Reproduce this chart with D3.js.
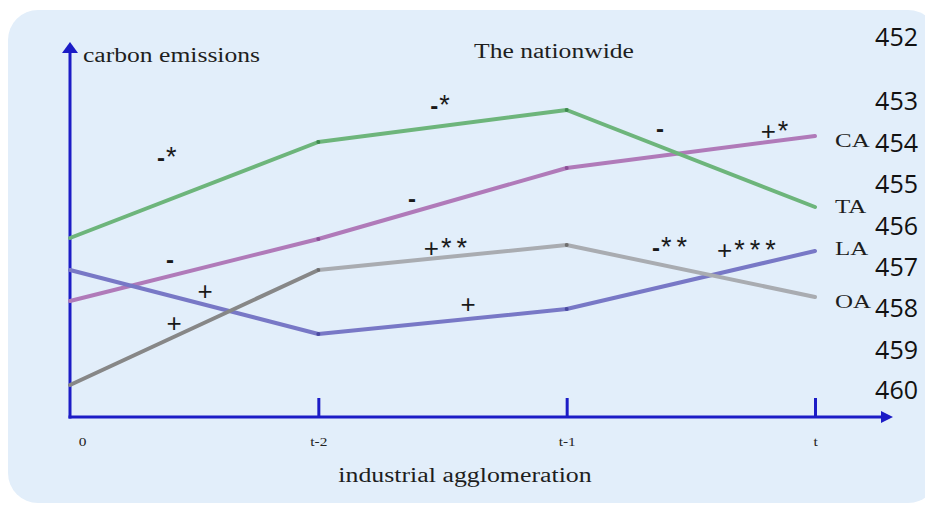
<!DOCTYPE html>
<html>
<head>
<meta charset="utf-8">
<script src="https://cdn.jsdelivr.net/npm/d3@7"></script>
<style>
  html, body { margin: 0; padding: 0; background: #ffffff; }
  svg { display: block; }
</style>
</head>
<body>
<svg id="chart" width="925" height="506"></svg>
<script>
// Stages of industrial agglomeration along the horizontal axis
const categories = ["0", "t-2", "t-1", "t"];

// Relative carbon-emission level of each agglomeration type at each stage
const seriesNames = ["CA", "TA", "LA", "OA"];
const caValues = [29, 44.5, 62.25, 70.25];
const taValues = [44.75, 68.75, 76.75, 52.5];
const laValues = [36.75, 20.75, 27, 41.5];
const oaValues = [8, 36.75, 43, 30];

// Sign / significance notes: stage position (in category steps) and level
const noteTexts = ["-*", "-*", "-", "+*", "-", "-", "+", "+", "+**", "-**", "+", "+***"];
const noteStage = [0.40, 1.50, 2.376, 2.847, 1.377, 0.403, 0.544, 0.419, 1.522, 2.424, 1.603, 2.734];
const noteLevel = [65, 78, 72.25, 71.5, 54.75, 39.5, 31.5, 23.5, 42.25, 42.5, 28.25, 41.75];

// Manuscript line numbers printed down the right margin
const lineNumbers = ["452", "453", "454", "455", "456", "457", "458", "459", "460"];

const series = [
  { name: seriesNames[0], values: caValues, colors: ["#b07ab9", "#b07ab9", "#b07ab9"], dot: "#8a4f96" },
  { name: seriesNames[1], values: taValues, colors: ["#6db57b", "#6db57b", "#6db57b"], dot: "#3f8a4f" },
  { name: seriesNames[2], values: laValues, colors: ["#7878c6", "#7878c6", "#7878c6"], dot: "#4a4aa0" },
  { name: seriesNames[3], values: oaValues, colors: ["#878787", "#a9acb1", "#a9acb1"], dot: "#6f6f6f" }
];

const svg = d3.select("#chart");
const axisBlue = "#1c1cc6";
const serif = "'Liberation Serif', 'Times New Roman', serif";
const stretch = 1.28;

// Rounded light-blue panel behind the figure
svg.append("rect")
  .attr("x", 8).attr("y", 10)
  .attr("width", 930).attr("height", 493)
  .attr("rx", 30).attr("ry", 30)
  .attr("fill", "#e2eefa");

const x = d3.scalePoint().domain(categories).range([70, 815]);
const step = x.step();
const y = d3.scaleLinear().domain([0, 100]).range([417, 17]);
const xStage = s => x(categories[0]) + s * step;

// Horizontally widened serif text helper
function serifText(px, py, txt, size, anchor) {
  return svg.append("text")
    .attr("transform", `translate(${px},${py}) scale(${stretch},1)`)
    .attr("text-anchor", anchor || "start")
    .attr("font-family", serif)
    .attr("font-size", size)
    .attr("fill", "#1e1e1e")
    .text(txt);
}

// Axes with arrowheads
const x0 = x(categories[0]);
const yBase = y(0);
svg.append("line")
  .attr("x1", x0).attr("y1", yBase + 1.5)
  .attr("x2", x0).attr("y2", 50)
  .attr("stroke", axisBlue).attr("stroke-width", 3);
svg.append("path")
  .attr("d", `M${x0 - 8},53 L${x0},42 L${x0 + 8},53 Z`)
  .attr("fill", axisBlue);
svg.append("line")
  .attr("x1", x0 - 1.5).attr("y1", yBase)
  .attr("x2", 884).attr("y2", yBase)
  .attr("stroke", axisBlue).attr("stroke-width", 3);
svg.append("path")
  .attr("d", `M881,${yBase - 6} L893,${yBase} L881,${yBase + 6} Z`)
  .attr("fill", axisBlue);

// Tick marks and tick labels
const xAxis = d3.axisBottom(x).tickSize(0).tickPadding(0);
const gx = svg.append("g").attr("transform", `translate(0,${yBase})`).call(xAxis);
gx.select(".domain").remove();
gx.selectAll(".tick").each(function (d, i) {
  const g = d3.select(this);
  g.select("text").remove();
  if (i > 0) {
    g.append("line").attr("y1", 0).attr("y2", -19)
      .attr("stroke", axisBlue).attr("stroke-width", 3);
  }
  g.append("text")
    .attr("transform", `translate(${i === 0 ? 12 : 0},29) scale(${stretch},1)`)
    .attr("text-anchor", "middle")
    .attr("font-family", serif)
    .attr("font-size", 12)
    .attr("fill", "#222")
    .text(d);
});

// Lines, one segment at a time so each segment keeps its own colour
const segs = [];
series.forEach(s => {
  for (let i = 0; i < categories.length - 1; i++) {
    segs.push({ s, i });
  }
});
svg.append("g").selectAll("line.seg").data(segs).join("line")
  .attr("class", "seg")
  .attr("x1", d => x(categories[d.i]))
  .attr("y1", d => y(d.s.values[d.i]))
  .attr("x2", d => x(categories[d.i + 1]))
  .attr("y2", d => y(d.s.values[d.i + 1]))
  .attr("stroke", d => d.s.colors[d.i])
  .attr("stroke-width", 4)
  .attr("stroke-linecap", "round");

// Small vertex dots
series.forEach(s => {
  svg.append("g").selectAll("circle").data(s.values.slice(1, 3)).join("circle")
    .attr("cx", (d, i) => x(categories[i + 1]))
    .attr("cy", d => y(d))
    .attr("r", 2)
    .attr("fill", s.dot);
});

// Series name labels at the line ends
const labelNudge = { CA: 11, TA: 6, LA: 4, OA: 11 };
series.forEach(s => {
  const last = s.values[s.values.length - 1];
  serifText(x(categories[categories.length - 1]) + 20, y(last) + labelNudge[s.name], s.name, 19.5);
});

// Significance notes: a sign followed by zero or more stars
const notes = svg.append("g").selectAll("text.note").data(noteTexts).join("text")
  .attr("class", "note")
  .attr("x", (d, i) => xStage(noteStage[i]))
  .attr("y", (d, i) => y(noteLevel[i]))
  .attr("text-anchor", "middle")
  .attr("dominant-baseline", "central")
  .attr("font-family", "'Liberation Sans', Arial, sans-serif")
  .attr("fill", "#1a1a1a");
notes.append("tspan")
  .attr("font-size", d => d[0] === "-" ? 24 : 26)
  .attr("font-weight", d => d[0] === "-" ? "bold" : "normal")
  .text(d => d[0]);
notes.filter(d => d.length > 1).append("tspan")
  .attr("font-size", 27)
  .attr("dx", d => d[0] === "-" ? 1 : 2)
  .attr("letter-spacing", 5)
  .text(d => d.slice(1));

// Titles
serifText(83, 62, "carbon emissions", 20);
serifText(474, 58, "The nationwide", 20);
serifText(465, 482, "industrial agglomeration", 20.2, "middle");

// Right-margin line numbers
const noteRows = [36, 100, 142, 183, 225, 266, 307, 349, 389];
svg.append("g").selectAll("text.ln").data(lineNumbers).join("text")
  .attr("class", "ln")
  .attr("x", 918)
  .attr("y", (d, i) => noteRows[i])
  .attr("text-anchor", "end")
  .attr("dominant-baseline", "central")
  .attr("font-family", "'Open Sans', 'Noto Sans', sans-serif")
  .attr("font-size", 25)
  .attr("fill", "#111")
  .text(d => d);
</script>
</body>
</html>
